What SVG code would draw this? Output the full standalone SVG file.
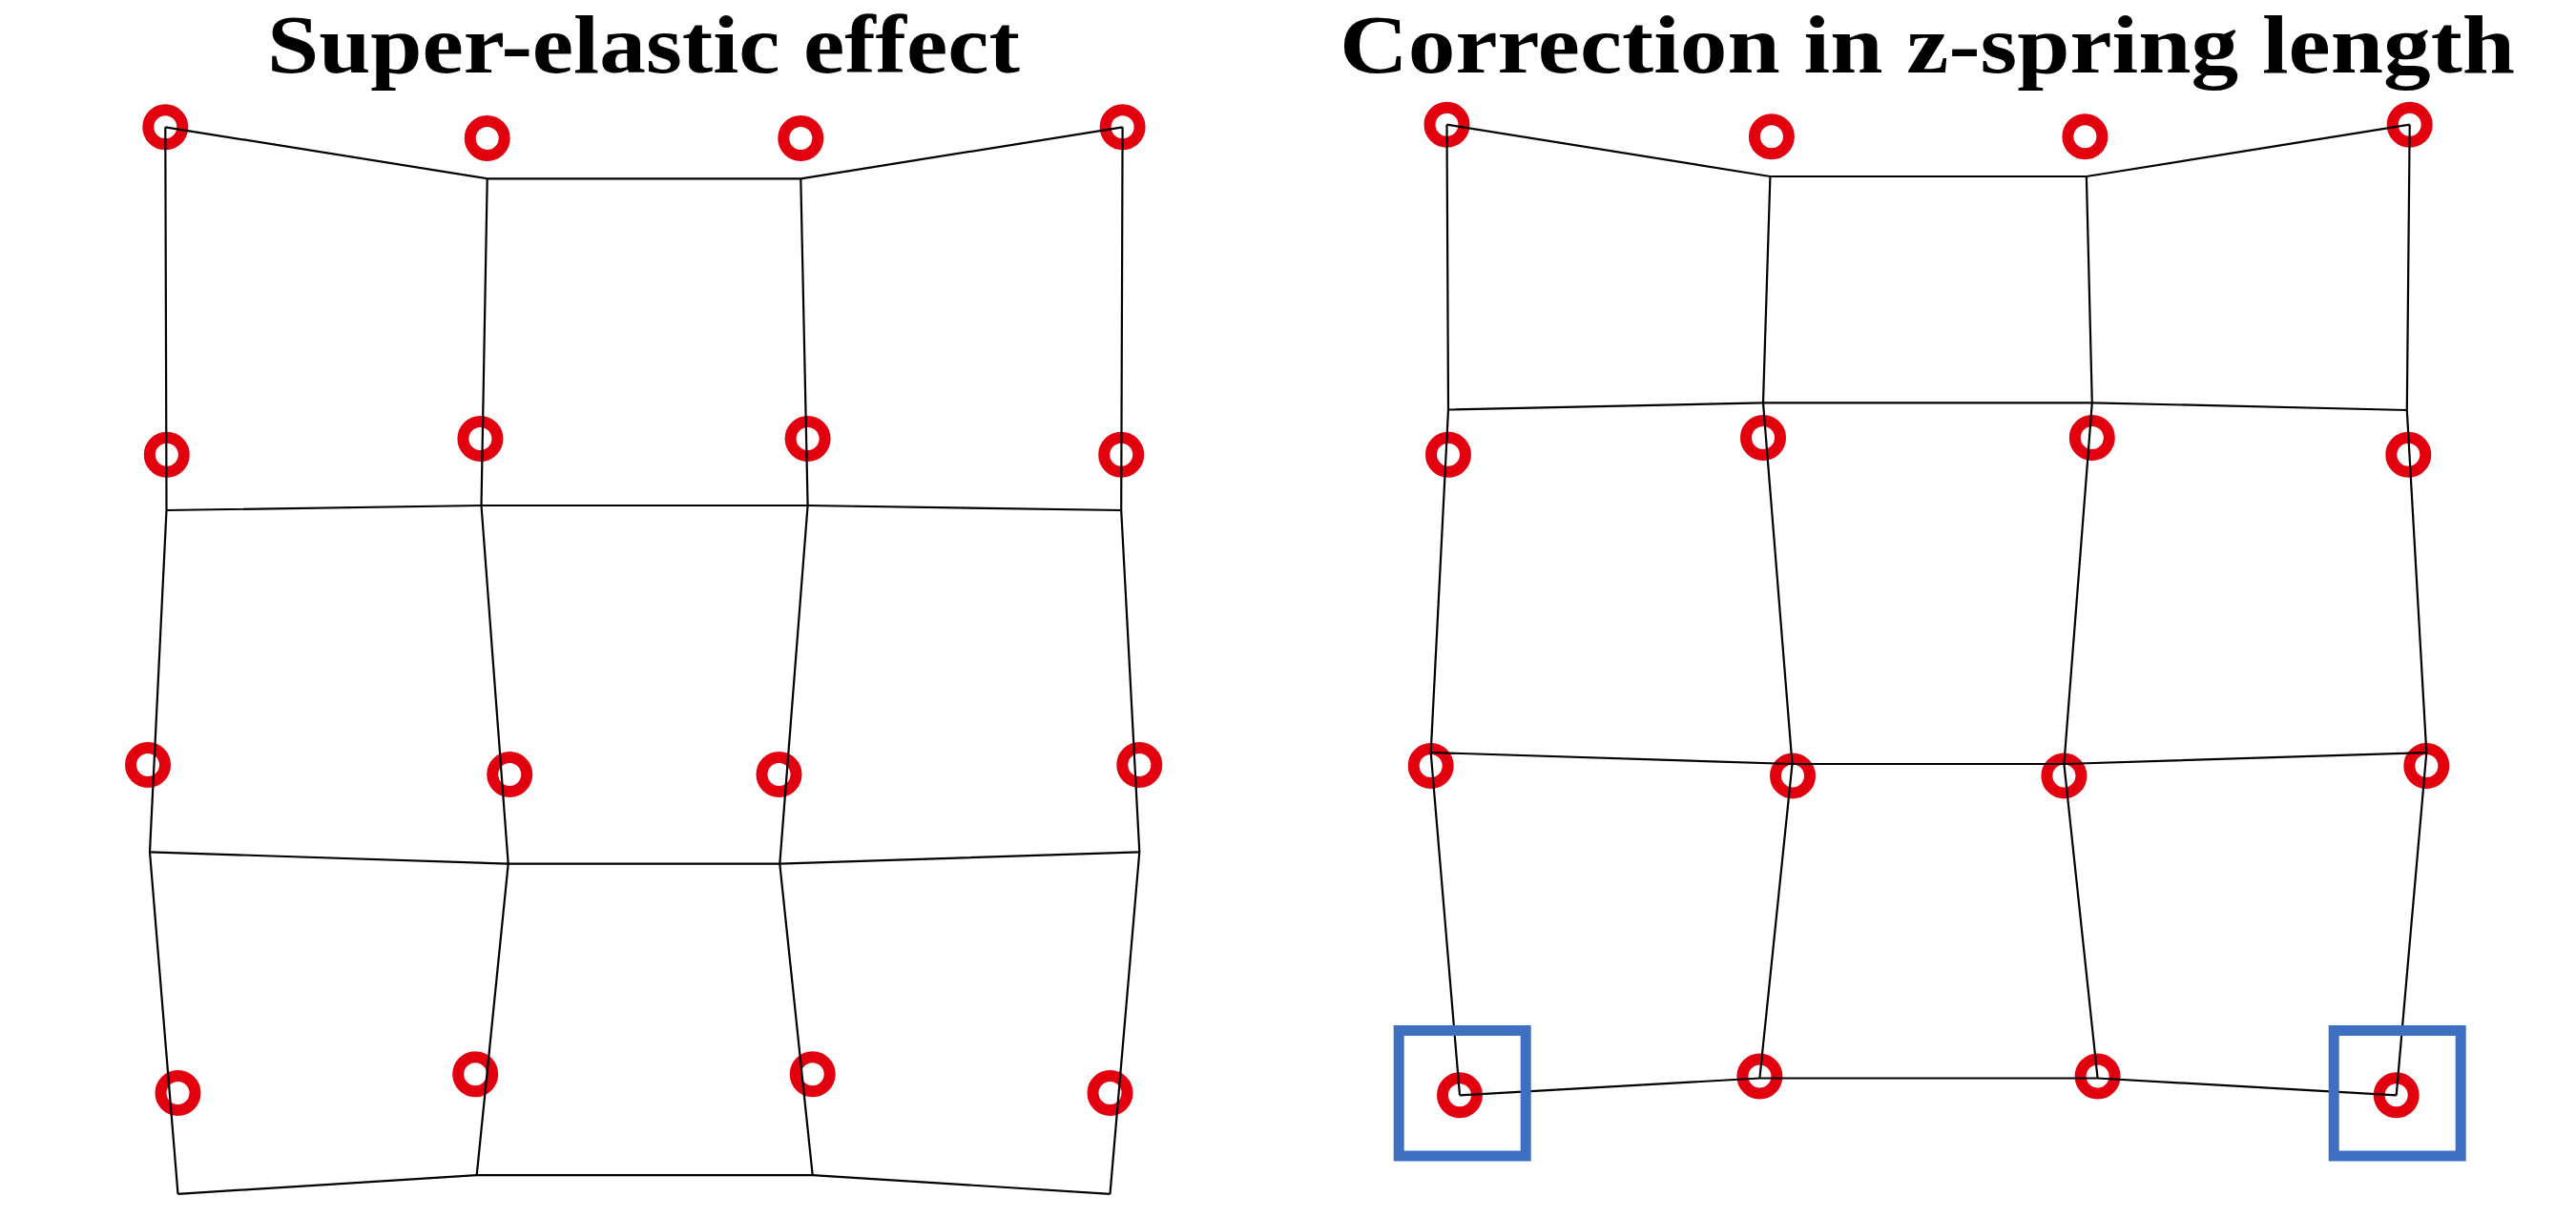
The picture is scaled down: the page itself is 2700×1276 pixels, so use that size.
<svg xmlns="http://www.w3.org/2000/svg" width="2700" height="1276" viewBox="0 0 2700 1276">
<style>
.title{font-family:"Liberation Serif","Times New Roman",serif;font-weight:bold;font-size:86px;fill:#000}
.ring{fill:none;stroke:#e2000f;stroke-width:12}
.edge{fill:none;stroke:#000;stroke-width:2.2;stroke-linejoin:miter}
.box{fill:none;stroke:#3f6fc1;stroke-width:11}
</style>
<rect width="2700" height="1276" fill="#fff"/>
<text class="title" x="280" y="76" textLength="789" lengthAdjust="spacingAndGlyphs">Super-elastic effect</text>
<text class="title" x="1404" y="76" textLength="1232" lengthAdjust="spacingAndGlyphs">Correction in z-spring length</text>

<g id="nodes-left">
<g id="L11"><circle class="ring" cx="173.3" cy="133.3" r="18"/></g>
<g id="L12"><circle class="ring" cx="510.7" cy="145" r="18"/></g>
<g id="L13"><circle class="ring" cx="839.3" cy="145" r="18"/></g>
<g id="L14"><circle class="ring" cx="1176.6" cy="133.3" r="18"/></g>
<g id="L21"><circle class="ring" cx="174.8" cy="476.7" r="18"/></g>
<g id="L22"><circle class="ring" cx="503.4" cy="460" r="18"/></g>
<g id="L23"><circle class="ring" cx="846.6" cy="460" r="18"/></g>
<g id="L24"><circle class="ring" cx="1175.2" cy="476.7" r="18"/></g>
<g id="L31"><circle class="ring" cx="155" cy="802" r="18"/></g>
<g id="L32"><circle class="ring" cx="534.2" cy="812" r="18"/></g>
<g id="L33"><circle class="ring" cx="816.5" cy="812" r="18"/></g>
<g id="L34"><circle class="ring" cx="1194.3" cy="802" r="18"/></g>
<g id="L41"><circle class="ring" cx="186.5" cy="1146" r="18"/></g>
<g id="L42"><circle class="ring" cx="498.2" cy="1126.2" r="18"/></g>
<g id="L43"><circle class="ring" cx="851.7" cy="1126.2" r="18"/></g>
<g id="L44"><circle class="ring" cx="1163.5" cy="1146" r="18"/></g>
</g>

<g id="nodes-right">
<g id="R11"><circle class="ring" cx="1516.5" cy="130.7" r="18"/></g>
<g id="R12"><circle class="ring" cx="1856.9" cy="143.3" r="18"/></g>
<g id="R13"><circle class="ring" cx="2185.4" cy="143.3" r="18"/></g>
<g id="R14"><circle class="ring" cx="2525.7" cy="130.7" r="18"/></g>
<g id="R21"><circle class="ring" cx="1518" cy="476.7" r="18"/></g>
<g id="R22"><circle class="ring" cx="1848" cy="459" r="18"/></g>
<g id="R23"><circle class="ring" cx="2192.8" cy="459" r="18"/></g>
<g id="R24"><circle class="ring" cx="2524.3" cy="476.7" r="18"/></g>
<g id="R31"><circle class="ring" cx="1499.7" cy="803" r="18"/></g>
<g id="R32"><circle class="ring" cx="1879" cy="813.4" r="18"/></g>
<g id="R33"><circle class="ring" cx="2163.4" cy="813.4" r="18"/></g>
<g id="R34"><circle class="ring" cx="2543.3" cy="803" r="18"/></g>
<g id="R41"><circle class="ring" cx="1530" cy="1148.3" r="18"/></g>
<g id="R42"><circle class="ring" cx="1844.4" cy="1128.5" r="18"/></g>
<g id="R43"><circle class="ring" cx="2198.6" cy="1128.5" r="18"/></g>
<g id="R44"><circle class="ring" cx="2511.7" cy="1148.3" r="18"/></g>
</g>

<g id="connectors">
<path class="edge" d="M173.3,133.3 L510.7,187.3 L839.3,187.3 L1176.6,133.3"/>
<path class="edge" d="M174.5,535 L504.5,530 L846.6,530 L1175.2,535"/>
<path class="edge" d="M157,893.3 L532.7,905.7 L817.3,905.7 L1194.3,893.3"/>
<path class="edge" d="M186.5,1251.8 L499.7,1232.1 L851.7,1232.1 L1163.5,1251.8"/>
<path class="edge" d="M173.3,133.3 L174.5,535 L157,893.3 L186.5,1251.8"/>
<path class="edge" d="M510.7,187.3 L504.5,530 L532.7,905.7 L499.7,1232.1"/>
<path class="edge" d="M839.3,187.3 L846.6,530 L817.3,905.7 L851.7,1232.1"/>
<path class="edge" d="M1176.6,133.3 L1175.2,535 L1194.3,893.3 L1163.5,1251.8"/>

<path class="edge" d="M1516.5,130.7 L1855.4,185 L2186.9,185 L2525.7,130.7"/>
<path class="edge" d="M1518,429.5 L1848,422.3 L2192.8,422.3 L2522.8,430"/>
<path class="edge" d="M1499.7,789 L1878.5,801 L2163.4,801 L2543.3,789"/>
<path class="edge" d="M1530,1148.3 L1844.4,1130.5 L2198.6,1130.5 L2511.7,1148.3"/>
<path class="edge" d="M1516.5,130.7 L1518,429.5 L1499.7,789 L1530,1148.3"/>
<path class="edge" d="M1855.4,185 L1848,422.3 L1878.5,801 L1844.4,1130.5"/>
<path class="edge" d="M2186.9,185 L2192.8,422.3 L2163.4,801 L2198.6,1130.5"/>
<path class="edge" d="M2525.7,130.7 L2522.8,430 L2543.3,789 L2511.7,1148.3"/>
</g>

<g id="highlight-left"><rect class="box" x="1466.2" y="1080.5" width="133" height="131.5"/></g>
<g id="highlight-right"><rect class="box" x="2446.2" y="1080.5" width="133" height="131.5"/></g>
</svg>
